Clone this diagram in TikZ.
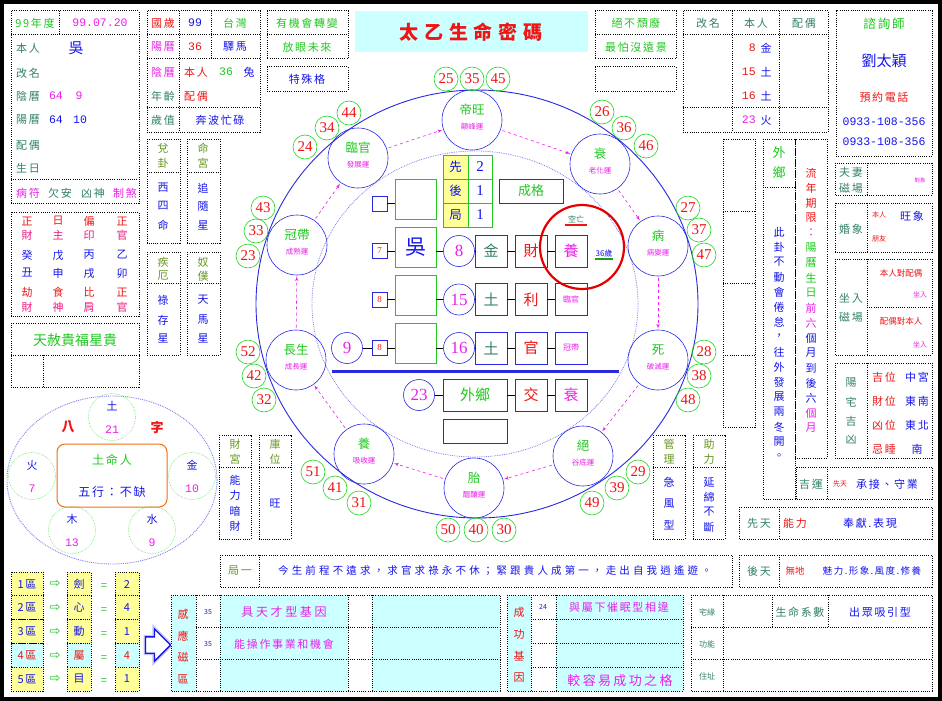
\documentclass[tikz,border=0pt]{standalone}
\usepackage{fontspec}
\setmainfont{Liberation Serif}
\newfontfamily\cjk{Noto Sans CJK TC}
\newfontfamily\monof{Liberation Mono}
\newfontfamily\numf{Liberation Serif}
\newfontfamily\symf{DejaVu Sans}
\usetikzlibrary{shapes,arrows}

\definecolor{tgreen}{RGB}{30,200,30}
\definecolor{tolive}{RGB}{100,150,30}
\definecolor{tteal}{RGB}{50,130,100}
\definecolor{tblue}{RGB}{20,20,235}
\definecolor{tmag}{RGB}{235,30,235}
\definecolor{tred}{RGB}{240,20,20}
\definecolor{rblue}{RGB}{40,40,225}
\definecolor{agegreen}{RGB}{30,215,30}
\definecolor{cfill}{RGB}{204,255,255}
\definecolor{yfill}{RGB}{255,255,153}
\definecolor{torange}{RGB}{240,110,20}

\begin{document}
\begin{tikzpicture}[x=1pt, y=-1pt, semithick]
  \tikzstyle{dotbox} = [draw, dash pattern=on 1pt off 1.2pt, line width=1pt]
  \tikzstyle{txt} = [inner sep=0pt, font=\cjk\fontsize{11}{12}\selectfont\addfontfeatures{LetterSpace=15}]
  \tikzstyle{sml} = [inner sep=0pt, font=\cjk\fontsize{7}{8}\selectfont]
  \tikzstyle{big} = [inner sep=0pt, font=\cjk\fontsize{15}{16}\selectfont]
  \tikzstyle{mono} = [inner sep=0pt, font=\monof\fontsize{11.5}{12}\selectfont]
  \tikzstyle{phase} = [circle, draw=rblue, minimum size=60pt, inner sep=0pt]
  \tikzstyle{ptitle} = [inner sep=0pt, text=tgreen, font=\cjk\fontsize{12.5}{13}\selectfont]
  \tikzstyle{psub} = [inner sep=0pt, text=tmag, font=\cjk\fontsize{7.5}{8}\selectfont]
  \tikzstyle{age} = [circle, draw=agegreen, minimum size=24pt, inner sep=0pt,
    text=tred, font=\numf\fontsize{15}{15}\selectfont]
  \tikzstyle{ncirc} = [circle, draw=rblue, minimum size=31pt, inner sep=0pt,
    text=tmag, font=\numf\fontsize{17}{17}\selectfont]
  \tikzstyle{gbox} = [rectangle, draw=tgreen, minimum width=41pt, minimum height=40pt, inner sep=0pt]
  \tikzstyle{bbox} = [rectangle, draw=rblue, minimum width=32pt, minimum height=32pt, inner sep=0pt,
    font=\cjk\fontsize{15}{16}\selectfont]
  \tikzstyle{sbox} = [rectangle, draw=rblue, minimum size=15pt, inner sep=0pt, text=tred,
    font=\numf\fontsize{9}{9}\selectfont]
  \tikzstyle{line} = [draw, tmag, dashed, -latex', shorten <=2pt, shorten >=1pt]
  \tikzstyle{link} = [draw, black, thin]

  \useasboundingbox (0,0) rectangle (942,701);
  \draw[line width=4pt] (2,2) rectangle (940,699);

  % Top left: personal data
  \draw[dotbox] (11,11) rectangle (139,203);
  \draw[dotbox] (11,35) -- (139,35) (11,179) -- (139,179) (59,11) -- (59,35);
  \node[txt, tgreen] (year) at (35,23) {99年度};
  \node[mono, tmag] (date) at (100,23) {99.07.20};
  \node[txt, tteal] (lbself) at (28,48) {本人};
  \node[big, tblue] (surname) at (76,48) {吳};
  \foreach \n/\y/\t in {lbrename/73/改名, lblunar/96/陰曆, lbsolar/120/陽曆, lbspouse/145/配偶, lbbirth/168/生日}
    \node[txt, tteal] (\n) at (28,\y) {\t};
  \node[mono, tmag] (lunary) at (56,96) {64};
  \node[mono, tmag] (lunarm) at (79,96) {9};
  \node[mono, tblue] (solary) at (56,120) {64};
  \node[mono, tblue] (solarm) at (80,120) {10};
  \foreach \n/\x/\c/\t in {star1/28/tmag/病符, star2/60/tteal/欠安, star3/93/tteal/凶神, star4/125/tmag/制煞}
    \node[txt, \c] (\n) at (\x,193) {\t};

  % Top left: year values
  \draw[dotbox] (147,11) rectangle (260,132);
  \draw[dotbox] (147,35) -- (260,35) (147,59) -- (260,59) (147,107) -- (260,107)
    (179,11) -- (179,132) (211,11) -- (211,59);
  \node[txt, tred] (guosui) at (163,23) {國歲};
  \node[mono, tblue] (guosuiv) at (195,23) {99};
  \node[txt, tgreen] (taiwan) at (235,23) {台灣};
  \node[txt, tmag] (solar2) at (163,47) {陽曆};
  \node[mono, tred] (age36) at (195,47) {36};
  \node[txt, tblue] (yima) at (235,47) {驛馬};
  \node[txt, tmag] (lunar2) at (163,72) {陰曆};
  \node[txt, tred] (selfage) at (196,72) {本人};
  \node[mono, tgreen] (selfagev) at (226,72) {36};
  \node[txt, tblue] (rabbit) at (249,72) {兔};
  \node[txt, tteal] (nianling) at (163,96) {年齡};
  \node[txt, tred] (spouseage) at (196,96) {配偶};
  \node[txt, tteal] (suizhi) at (163,120) {歲值};
  \node[txt, tblue] (benbo) at (220,120) {奔波忙碌};

  % Small vertical boxes
  \foreach \x in {147,187} {
    \draw[dotbox] (\x,139) rectangle ({\x+33},243);
    \draw[dotbox] (\x,172) -- ({\x+33},172);
    \draw[dotbox] (\x,252) rectangle ({\x+33},355);
    \draw[dotbox] (\x,283) -- ({\x+33},283);
  }
  \foreach \n/\x/\y/\c/\t in {dui1/163/148/tolive/兌, dui2/163/163/tolive/卦, xi1/163/188/tblue/西,
      xi2/163/206/tblue/四, xi3/163/225/tblue/命, mg1/203/148/tolive/命, mg2/203/163/tolive/宮,
      zh1/203/188/tblue/追, zh2/203/206/tblue/隨, zh3/203/225/tblue/星, je1/163/262/tolive/疾,
      je2/163/276/tolive/厄, lc1/163/300/tblue/祿, lc2/163/320/tblue/存, lc3/163/338/tblue/星,
      np1/203/262/tolive/奴, np2/203/276/tolive/僕, tm1/203/300/tblue/天, tm2/203/320/tblue/馬,
      tm3/203/338/tblue/星}
    \node[txt, \c] (\n) at (\x,\y) {\t};

  % Four pillars
  \draw[dotbox] (11,212) rectangle (139,316);
  \foreach \n/\x/\a/\b/\c/\d/\e/\f in {p1/27/正/財/癸/丑/劫/財, p2/58/日/主/戊/申/食/神,
      p3/89/偏/印/丙/戌/比/肩, p4/122/正/官/乙/卯/正/官} {
    \node[txt, tred] (\n-a) at (\x,221) {\a};
    \node[txt, tmag!50!tred] (\n-b) at (\x,235) {\b};
    \node[txt, tblue] (\n-c) at (\x,255) {\c};
    \node[txt, tblue] (\n-d) at (\x,273) {\d};
    \node[txt, tred] (\n-e) at (\x,292) {\e};
    \node[txt, tmag!50!tred] (\n-f) at (\x,307) {\f};
  }
  \draw[dotbox] (11,323) rectangle (139,387);
  \draw[dotbox] (11,355) -- (139,355) (43,355) -- (43,387);
  \node[inner sep=0pt, text=tgreen, font=\cjk\fontsize{14}{14}\selectfont] (tianshe) at (75,340) {天赦貴福星貴};

  % Five elements
  \draw[rblue!60, densely dotted, line width=0.9pt] (112,480) ellipse (105pt and 84pt);
  \foreach \n/\x/\y/\a/\b in {earth/112/417/土/21, fire/32/476/火/7, metal/192/476/金/10,
      wood/72/530/木/13, water/152/530/水/9} {
    \node[circle, draw=agegreen!70, densely dotted, minimum size=47pt, inner sep=0pt] (\n) at (\x,\y) {};
    \node[txt, tblue] (\n-el) at (\x,{\y-11}) {\a};
    \node[mono, tmag] (\n-ct) at (\x,{\y+13}) {\b};
  }
  \node[inner sep=0pt, text=tred, font=\cjk\bfseries\fontsize{13}{13}\selectfont] (ba) at (68,427) {八};
  \node[inner sep=0pt, text=tred, font=\cjk\bfseries\fontsize{13}{13}\selectfont] (zi) at (157,427) {字};
  \node[draw=torange, rounded corners=8pt, minimum width=110pt, minimum height=63pt, line width=1pt] (mingbox) at (112,475.5) {};
  \node[inner sep=0pt, text=tgreen, font=\cjk\fontsize{12}{12}\selectfont\addfontfeatures{LetterSpace=15}] (mingren) at (112,460) {土命人};
  \node[inner sep=0pt, text=tblue, font=\cjk\fontsize{12}{12}\selectfont\addfontfeatures{LetterSpace=15}] (wuxing) at (112,492) {五行：不缺};

  % Zones
  \foreach \r/\y/\f/\c/\ch/\v in {1/584/yfill/tblue/劍/2, 2/607.5/yfill/tblue/心/4, 3/631.5/yfill/tblue/動/1,
      4/655.5/cfill/tred/屬/4, 5/679/yfill/tblue/目/1} {
    \filldraw[fill=\f, dotbox] (11,{\y-12}) rectangle (43,{\y+12});
    \filldraw[fill=\f, dotbox] (67,{\y-12}) rectangle (91,{\y+12});
    \filldraw[fill=\f, dotbox] (115,{\y-12}) rectangle (139,{\y+12});
    \node[txt, \c] (zone\r) at (27,\y) {{\r}區};
    \node[inner sep=0pt, text=tgreen, font=\symf\fontsize{13}{13}\selectfont] (to\r) at (55,\y) {⇨};
    \node[txt, tgreen] (eq\r) at (104,{\y+3}) {=};
    \node[txt, \c] (key\r) at (79,\y) {\ch};
    \node[txt, \c] (val\r) at (127,\y) {\v};
  }
  \node[single arrow, draw=tblue, fill=white, line width=1.3pt, minimum height=25pt,
    inner xsep=0pt, inner ysep=7.5pt, single arrow head extend=8pt,
    preaction={draw=tblue!25, line width=4pt}] (bigarrow) at (154,645) {};

  % Induction zone
  \fill[cfill] (171,595) rectangle (196,691) (220,595) rectangle (348,691) (372,595) rectangle (500,691);
  \draw[dotbox] (171,595) rectangle (500,691);
  \draw[dotbox] (196,595) -- (196,691) (220,595) -- (220,691) (348,595) -- (348,691) (372,595) -- (372,691)
    (196,627) -- (500,627) (196,659) -- (500,659);
  \foreach \c [count=\i] in {感,應,磁,區}
    \node[txt, tred] (gy\i) at (183,{593+21.5*\i}) {\c};
  \node[sml, tblue] (gyn1) at (208,612) {35};
  \node[sml, tblue] (gyn2) at (208,644) {35};
  \node[txt, tmag, font=\cjk\fontsize{12}{12}\selectfont\addfontfeatures{LetterSpace=22}] (gyt1) at (284,612) {具天才型基因};
  \node[txt, tmag] (gyt2) at (284,644) {能操作事業和機會};

  % Success genes
  \fill[cfill] (507,595) rectangle (531,691) (556,595) rectangle (683,691);
  \draw[dotbox] (507,595) rectangle (683,691);
  \draw[dotbox] (531,595) -- (531,691) (556,595) -- (556,691) (531,619) -- (683,619)
    (531,643) -- (683,643) (531,667) -- (683,667);
  \foreach \c [count=\i] in {成,功,基,因}
    \node[txt, tred] (cg\i) at (519,{590+22*\i}) {\c};
  \node[sml, tblue] (cgn1) at (543,607) {24};
  \node[txt, tmag] (cgt1) at (619,607) {與屬下催眠型相違};
  \node[txt, tmag, font=\cjk\fontsize{13}{13}\selectfont\addfontfeatures{LetterSpace=18}] (cgt4) at (620,681) {較容易成功之格};

  % House
  \draw[dotbox] (691,595) rectangle (932,691);
  \draw[dotbox] (723,595) -- (723,691) (691,627) -- (932,627) (691,659) -- (932,659)
    (772,595) -- (772,627) (828,595) -- (828,627);
  \node[sml, tteal, font=\cjk\fontsize{8}{8}\selectfont] (zhai) at (707,612) {宅緣};
  \node[txt, tteal] (xishu) at (800,612) {生命系數};
  \node[txt, tblue] (xiyin) at (880,612) {出眾吸引型};
  \node[sml, tteal, font=\cjk\fontsize{8}{8}\selectfont] (gongneng) at (707,644) {功能};
  \node[sml, tteal, font=\cjk\fontsize{8}{8}\selectfont] (zhuzhi) at (707,676) {住址};

  % Verse rows
  \draw[dotbox] (220,555) rectangle (732,587);
  \draw[dotbox] (259,555) -- (259,587);
  \node[txt, tolive] (juyi) at (240,571) {局一};
  \node[inner sep=0pt, text=tblue, font=\cjk\fontsize{10.5}{12}\selectfont\addfontfeatures{LetterSpace=30}] (verse) at (495,571)
    {今生前程不遠求，求官求祿永不休；緊跟貴人成第一，走出自我逍遙遊。};
  \draw[dotbox] (739,555) rectangle (932,587);
  \draw[dotbox] (779,555) -- (779,587);
  \node[txt, tteal] (houtian) at (759,571) {後天};
  \node[inner sep=0pt, text=tred, font=\cjk\fontsize{9.5}{10}\selectfont] (wudi) at (795,571) {無地};
  \node[inner sep=0pt, text=tblue, font=\cjk\fontsize{9.5}{10}\selectfont\addfontfeatures{LetterSpace=15}] (meili) at (872,571) {魅力.形象.風度.修養};

  % Top centre
  \draw[dotbox] (267,11) rectangle (348,59);
  \draw[dotbox] (267,35) -- (348,35);
  \node[txt, tgreen] (zhuanbian) at (307,23) {有機會轉變};
  \node[txt, tgreen] (fangyan) at (307,47) {放眼未來};
  \draw[dotbox] (267,67) rectangle (348,91);
  \node[txt, tblue] (teshu) at (307,79) {特殊格};
  \fill[cfill] (355,11) rectangle (588,52);
  \node[inner sep=0pt, text=tred, font=\cjk\bfseries\fontsize{19}{19}\selectfont\addfontfeatures{LetterSpace=30}] (title) at (471,32) {太乙生命密碼};
  \draw[dotbox] (595,11) rectangle (676,59);
  \draw[dotbox] (595,35) -- (676,35);
  \node[txt, tgreen] (tuifei) at (636,23) {絕不頹廢};
  \node[txt, tgreen] (yuanjing) at (636,47) {最怕沒遠景};
  \draw[dotbox] (595,67) rectangle (676,91);

  % Top right: name table
  \draw[dotbox] (683,11) rectangle (828,132);
  \draw[dotbox] (732,11) -- (732,132) (779,11) -- (779,132) (683,35) -- (828,35) (683,107) -- (828,107);
  \node[txt, tteal] (hgm) at (708,23) {改名};
  \node[txt, tteal] (hbr) at (756,23) {本人};
  \node[txt, tteal] (hpo) at (804,23) {配偶};
  \foreach \n/\y/\c/\v/\e in {s1/48/tred/8/金, s2/72/tred/15/土, s3/96/tred/16/土, s4/120/tmag/23/火} {
    \node[mono, \c, anchor=east] (\n-v) at (756,\y) {\v};
    \node[txt, tblue] (\n-e) at (766,\y) {\e};
  }

  % Consultant
  \draw[dotbox] (836,11) rectangle (932,156);
  \node[inner sep=0pt, text=tgreen, font=\cjk\fontsize{12.5}{13}\selectfont\addfontfeatures{LetterSpace=15}] (zixun) at (884,24) {諮詢師};
  \node[inner sep=0pt, text=tblue, font=\cjk\fontsize{15}{16}\selectfont] (liu) at (884,61) {劉太穎};
  \node[txt, tred] (yuyue) at (884,97) {預約電話};
  \node[mono, tblue] (tel1) at (884,122) {0933-108-356};
  \node[mono, tblue] (tel2) at (884,142) {0933-108-356};

  % Right column boxes
  \draw[dotbox] (835,163) rectangle (932,195);
  \draw[dotbox] (867,163) -- (867,195);
  \node[txt, tteal] (fuqi) at (851,172) {夫妻};
  \node[txt, tteal] (cichang1) at (851,188) {磁場};
  \node[sml, tmag, font=\cjk\fontsize{5.5}{6}\selectfont] (duixiang) at (920,180) {對象};
  \draw[dotbox] (835,203) rectangle (932,252);
  \draw[dotbox] (867,203) -- (867,252);
  \node[txt, tteal] (hunxiang) at (851,229) {婚象};
  \node[sml, tred] (hxself) at (879,215) {本人};
  \node[txt, tblue] (wangxiang) at (912,216) {旺象};
  \node[sml, tred] (pengyou) at (879,239) {朋友};
  \draw[dotbox] (835,259) rectangle (932,355);
  \draw[dotbox] (867,259) -- (867,355) (867,307) -- (932,307);
  \node[txt, tteal] (zuoru) at (851,298) {坐入};
  \node[txt, tteal] (cichang2) at (851,317) {磁場};
  \node[sml, tred, font=\cjk\fontsize{8.5}{9}\selectfont] (duipei) at (901,273) {本人對配偶};
  \node[sml, tmag] (zr1) at (920,295) {坐入};
  \node[sml, tred, font=\cjk\fontsize{8.5}{9}\selectfont] (duiben) at (901,321) {配偶對本人};
  \node[sml, tmag] (zr2) at (920,345) {坐入};
  \draw[dotbox] (835,363) rectangle (932,458);
  \draw[dotbox] (867,363) -- (867,458);
  \foreach \c [count=\i] in {陽,宅,吉,凶}
    \node[txt, tteal] (yz\i) at (851,{364+19*\i}) {\c};
  \foreach \n/\y/\a/\b in {w1/377/吉位/中宮, w2/401/財位/東南, w3/425/凶位/東北, w4/449/忌睡/南} {
    \node[txt, tred] (\n-a) at (884,\y) {\a};
    \node[txt, tblue] (\n-b) at (917,\y) {\b};
  }
  \draw[dotbox] (796,467) rectangle (932,499);
  \draw[dotbox] (827,467) -- (827,499);
  \node[txt, tteal] (jiyun) at (811,484) {吉運};
  \node[sml, tred] (xt1) at (840,484) {先天};
  \node[txt, tblue] (chengjie) at (887,484) {承接、守業};
  \draw[dotbox] (739,507) rectangle (932,539);
  \draw[dotbox] (779,507) -- (779,539);
  \node[txt, tteal] (xiantian) at (759,523) {先天};
  \node[txt, tred] (nengli) at (795,523) {能力};
  \node[txt, tblue] (fengxian) at (870,523) {奉獻.表現};

  % Tall columns
  \draw[dotbox] (723,139) rectangle (755,427);
  \draw[dotbox] (723,211) -- (755,211) (723,283) -- (755,283) (723,355) -- (755,355);
  \draw[dotbox] (763,139) rectangle (795,499);
  \draw[dotbox] (763,187) -- (795,187);
  \draw[dotbox] (795,139) rectangle (827,458);
  \node[big, tgreen, font=\cjk\fontsize{13}{13}\selectfont] (wai) at (779,153) {外};
  \node[big, tgreen, font=\cjk\fontsize{13}{13}\selectfont] (xiang) at (779,173) {鄉};
  \foreach \c [count=\i from 0] in {此,卦,不,動,會,倦,怠,，,往,外,發,展,兩,冬,開,。}
    \node[txt, tblue] (gua\i) at (779,{232+15*\i}) {\c};
  \foreach \c/\col [count=\i from 0] in {流/tred, 年/tred, 期/tred, 限/tred, ：/tmag, 陽/tgreen, 曆/tgreen,
      生/tgreen, 日/tgreen, 前/tmag, 六/tmag, 個/tblue, 月/tblue, 到/tblue, 後/tblue, 六/tblue, 個/tmag, 月/tmag}
    \node[txt, \col] (term\i) at (811,{173+15*\i}) {\c};

  % Lower side columns
  \foreach \n/\x/\a/\b in {caigong/219/財/宮, kuwei/259/庫/位, guanli/653/管/理, zhuli/693/助/力} {
    \draw[dotbox] (\x,435) rectangle ({\x+32},539);
    \draw[dotbox] (\x,467) -- ({\x+32},467);
    \node[txt, tolive] (\n-a) at ({\x+16},444) {\a};
    \node[txt, tolive] (\n-b) at ({\x+16},459) {\b};
  }
  \foreach \c [count=\i from 0] in {能,力,暗,財}
    \node[txt, tblue] (an\i) at (235,{480+15.5*\i}) {\c};
  \node[txt, tblue] (kuwang) at (275,503) {旺};
  \foreach \c [count=\i from 0] in {急,風,型}
    \node[txt, tblue] (jf\i) at (669,{482+21.5*\i}) {\c};
  \foreach \c [count=\i from 0] in {延,綿,不,斷}
    \node[txt, tblue] (ym\i) at (709,{482+15*\i}) {\c};

  % Ring
  \draw[rblue, line width=0.9pt] (477,304) ellipse (221pt and 214pt);
  \draw[rblue!60, densely dotted, line width=0.8pt] (475,304) ellipse (163pt and 153pt);
  \foreach \n/\x/\y/\t/\s in {diwang/472/120/帝旺/顛峰運, shuai/600/164/衰/老化運, bing/658/246/病/病變運,
      si/658/360/死/破滅運, jue/583/456/絕/谷底運, tai/474/488/胎/醞釀運, yang/364/454/養/吸收運,
      changsheng/296/360/長生/成長運, guandai/297/245/冠帶/成熟運, linguan/358/158/臨官/發展運} {
    \node[phase] (\n) at (\x,\y) {};
    \node[ptitle] (\n-t) at (\x,{\y-10}) {\t};
    \node[psub] (\n-s) at (\x,{\y+7}) {\s};
  }
  \foreach \a/\x/\y in {25/446/79, 35/472/79, 45/498/79, 26/602/112, 36/624/128, 46/646/146,
      27/688/208, 37/699/230, 47/704/255, 28/704/352, 38/699/376, 48/688/400,
      29/638/472, 39/617/488, 49/592/503, 50/448/530, 40/476/530, 30/504/530,
      51/313/472, 41/335/488, 31/359/503, 52/248/352, 42/254/376, 32/264/400,
      43/263/208, 33/256/231, 23/248/256, 44/349/113, 34/327/128, 24/305/147}
    \node[age] (a\a) at (\x,\y) {\a};

  % Centre grid
  \fill[yfill] (443,155) rectangle (468,227);
  \draw[tgreen] (443,155) rectangle (492,227) (468,155) -- (468,227) (443,179) -- (492,179) (443,203) -- (492,203);
  \foreach \n/\y/\t/\v in {xian/167/先/2, hou/191/後/1, ju/215/局/1} {
    \node[txt, tblue, font=\cjk\fontsize{12.5}{13}\selectfont] (\n) at (455.5,\y) {\t};
    \node[inner sep=0pt, text=tblue, font=\numf\fontsize{15}{15}\selectfont] (\n-v) at (480,\y) {\v};
  }
  \node[bbox, minimum width=64pt, minimum height=24pt, text=tgreen, font=\cjk\fontsize{13}{13}\selectfont] (chengge) at (531,191) {成格};

  \node[sbox] (sb1) at (379.5,203.5) {};
  \node[gbox] (g1) at (415.5,199) {};
  \node[sbox] (sb2) at (379.5,251) {7};
  \node[gbox, text=tblue, font=\cjk\fontsize{21}{21}\selectfont] (g2) at (415.5,247) {吳};
  \node[ncirc] (n8) at (459,251) {8};
  \node[bbox, text=tteal] (jin) at (491,251) {金};
  \node[bbox, text=tred] (cai) at (531,251) {財};
  \node[bbox, text=tmag] (yangbox) at (571,251) {養};
  \node[sbox] (sb3) at (379.5,299.5) {8};
  \node[gbox] (g3) at (415.5,295) {};
  \node[ncirc] (n15) at (459,299.5) {15};
  \node[bbox, text=tteal] (tu1) at (491,299.5) {土};
  \node[bbox, text=tred] (li) at (531,299.5) {利};
  \node[bbox, text=tmag, font=\cjk\fontsize{8}{8}\selectfont] (linguanbox) at (571,299.5) {臨官};
  \node[ncirc] (n9) at (347,348) {9};
  \node[sbox] (sb4) at (379.5,348) {8};
  \node[gbox] (g4) at (415.5,343) {};
  \node[ncirc] (n16) at (459,348) {16};
  \node[bbox, text=tteal] (tu2) at (491,348) {土};
  \node[bbox, text=tred] (guan) at (531,348) {官};
  \node[bbox, text=tmag, font=\cjk\fontsize{8}{8}\selectfont] (guandaibox) at (571,348) {冠帶};
  \draw[rblue, line width=3pt] (332,371) -- (619,371);
  \node[ncirc] (n23) at (419,395) {23};
  \node[bbox, minimum width=64pt, text=tgreen] (waixiang) at (475,395) {外鄉};
  \node[bbox, text=tred] (jiao) at (531,395) {交};
  \node[bbox, text=tmag] (shuaibox) at (571,395) {衰};
  \node[bbox, minimum width=64pt, minimum height=24pt] (emptybox) at (475,431) {};

  \node[circle, draw=red!90!black, line width=2.2pt, minimum size=84pt, inner sep=0pt] (kwring) at (582,247) {};
  \node[sml, tteal, font=\cjk\fontsize{8}{8}\selectfont] (kongwang) at (576,219) {空亡};
  \draw[tred, line width=1.2pt] ([yshift=-2pt, xshift=-3pt]kongwang.south west) -- ([yshift=-2pt, xshift=3pt]kongwang.south east);
  \node[sml, tblue, font=\cjk\fontsize{8}{8}\selectfont] (sui36) at (604,253) {36歲};
  \draw[tgreen!80!black, line width=1.5pt] ([yshift=-2pt]sui36.south west) -- ([yshift=-2pt]sui36.south east);

  % Draw edges
  \foreach \a/\b in {changsheng/guandai, guandai/linguan, linguan/diwang, diwang/shuai, shuai/bing,
      bing/si, si/jue, jue/tai, tai/yang, yang/changsheng}
    \path [line] (\a) -- (\b);

  \path [link] (sb1) -- (sb1 -| g1.west);
  \path [link] (sb2) -- (sb2 -| g2.west);
  \path [link] (g2.east |- n8) -- (n8);
  \path [link] (n8) -- (jin);
  \path [link] (jin) -- (cai);
  \path [link] (cai) -- (yangbox);
  \path [link] (sb3) -- (sb3 -| g3.west);
  \path [link] (g3.east |- n15) -- (n15);
  \path [link] (n15) -- (tu1);
  \path [link] (tu1) -- (li);
  \path [link] (li) -- (linguanbox);
  \path [link] (n9) -- (sb4);
  \path [link] (sb4) -- (sb4 -| g4.west);
  \path [link] (g4.east |- n16) -- (n16);
  \path [link] (n16) -- (tu2);
  \path [link] (tu2) -- (guan);
  \path [link] (guan) -- (guandaibox);
  \path [link] (n23) -- (waixiang);
  \path [link] (waixiang) -- (jiao);
  \path [link] (jiao) -- (shuaibox);

\end{tikzpicture}
\end{document}
